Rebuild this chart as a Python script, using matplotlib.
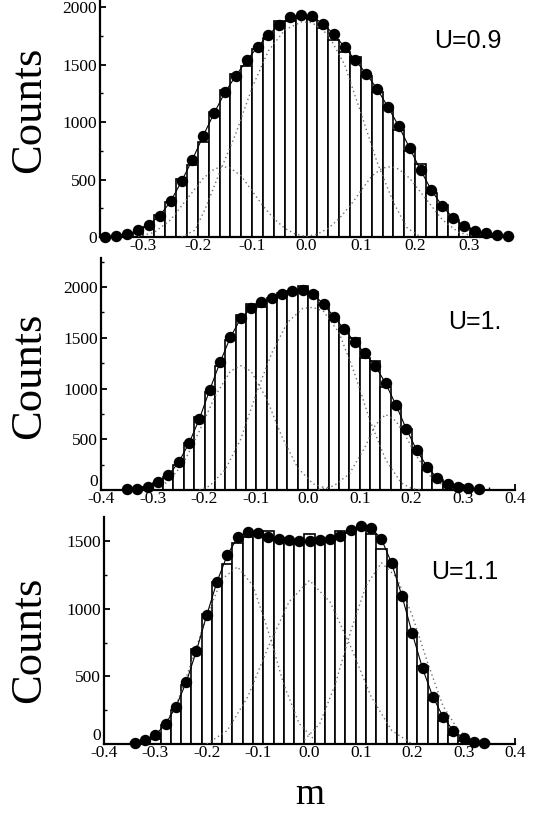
import matplotlib
matplotlib.use("Agg")
import matplotlib.pyplot as plt
from matplotlib.ticker import MultipleLocator
from matplotlib.transforms import ScaledTranslation

# ---------------- data ----------------
# Panel 1 : U=0.9
p1_pts_m = [-0.37, -0.35, -0.33, -0.31, -0.29, -0.27, -0.25, -0.23, -0.21, -0.19,
            -0.17, -0.15, -0.13, -0.11, -0.09, -0.07, -0.05, -0.03, -0.01, 0.01,
            0.03, 0.05, 0.07, 0.09, 0.11, 0.13, 0.15, 0.17, 0.19, 0.21,
            0.23, 0.25, 0.27, 0.29, 0.31, 0.33, 0.35, 0.37]
p1_pts_c = [0, 10, 25, 58, 107, 186, 310, 484, 672, 881,
            1078, 1258, 1403, 1536, 1652, 1759, 1846, 1913, 1933, 1919,
            1855, 1765, 1652, 1536, 1420, 1287, 1130, 962, 771, 580,
            406, 267, 165, 93, 55, 35, 20, 10]
p1_bar_m = [-0.33, -0.31, -0.29, -0.27, -0.25, -0.23, -0.21, -0.19, -0.17, -0.15,
            -0.13, -0.11, -0.09, -0.07, -0.05, -0.03, -0.01, 0.01, 0.03, 0.05,
            0.07, 0.09, 0.11, 0.13, 0.15, 0.17, 0.19, 0.21, 0.23, 0.25,
            0.27, 0.29, 0.31, 0.33]
p1_bar_c = [10, 35, 90, 191, 301, 504, 626, 823, 1090, 1278,
            1417, 1490, 1632, 1728, 1878, 1881, 1905, 1900, 1815, 1712,
            1612, 1568, 1400, 1264, 1139, 930, 748, 632, 380, 278,
            148, 75, 35, 10]
p1_mid_m = [-0.23, -0.205, -0.185, -0.16, -0.13, -0.10, -0.07, -0.04, -0.01, 0.01,
            0.04, 0.07, 0.10, 0.13, 0.16, 0.185, 0.21]
p1_mid_c = [0, 60, 260, 560, 900, 1300, 1620, 1800, 1870, 1865,
            1760, 1500, 1080, 650, 300, 80, 0]
p1_left_m = [-0.31, -0.28, -0.25, -0.22, -0.19, -0.17, -0.155, -0.14, -0.12, -0.10,
             -0.08, -0.06, -0.04, -0.02, 0.0]
p1_left_c = [5, 40, 150, 330, 510, 590, 612, 600, 530, 400,
             270, 160, 75, 25, 5]
p1_right_m = [0.0, 0.02, 0.04, 0.06, 0.08, 0.10, 0.12, 0.14, 0.155, 0.17,
              0.19, 0.22, 0.25, 0.28, 0.31]
p1_right_c = [5, 25, 75, 160, 270, 400, 530, 600, 612, 590,
              510, 330, 150, 40, 5]

# Panel 2 : U=1.
p2_pts_m = [-0.35, -0.33, -0.31, -0.29, -0.27, -0.25, -0.23, -0.21, -0.19, -0.17,
            -0.15, -0.13, -0.11, -0.09, -0.07, -0.05, -0.03, -0.01, 0.01, 0.03,
            0.05, 0.07, 0.09, 0.11, 0.13, 0.15, 0.17, 0.19, 0.21, 0.23,
            0.25, 0.27, 0.29, 0.31, 0.33]
p2_pts_c = [7, 13, 33, 76, 144, 273, 460, 699, 985, 1258,
            1504, 1691, 1790, 1849, 1888, 1931, 1964, 1970, 1928, 1833,
            1708, 1583, 1461, 1346, 1222, 1051, 837, 601, 394, 230,
            115, 56, 33, 16, 13]
p2_bar_m = [-0.33, -0.31, -0.29, -0.27, -0.25, -0.23, -0.21, -0.19, -0.17, -0.15,
            -0.13, -0.11, -0.09, -0.07, -0.05, -0.03, -0.01, 0.01, 0.03, 0.05,
            0.07, 0.09, 0.11, 0.13, 0.15, 0.17, 0.19, 0.21, 0.23, 0.25,
            0.27, 0.29, 0.31]
p2_bar_c = [10, 25, 66, 131, 246, 460, 722, 969, 1222, 1478,
            1724, 1833, 1806, 1895, 1938, 1964, 2013, 1954, 1823, 1675,
            1586, 1494, 1304, 1271, 1018, 837, 601, 394, 197, 99,
            49, 20, 8]
p2_mid_m = [-0.21, -0.19, -0.16, -0.13, -0.10, -0.07, -0.04, -0.01, 0.01, 0.03,
            0.06, 0.09, 0.12, 0.15, 0.18, 0.20, 0.22]
p2_mid_c = [0, 40, 200, 500, 950, 1350, 1650, 1790, 1800, 1760,
            1550, 1150, 680, 300, 70, 15, 0]
p2_left_m = [-0.30, -0.27, -0.24, -0.21, -0.18, -0.15, -0.13, -0.11, -0.08, -0.05,
             -0.02, 0.01, 0.04]
p2_left_c = [15, 80, 270, 580, 920, 1170, 1225, 1170, 900, 520,
             220, 60, 10]
p2_right_m = [0.02, 0.05, 0.08, 0.11, 0.13, 0.15, 0.17, 0.19, 0.21, 0.24,
              0.27, 0.29]
p2_right_c = [5, 40, 160, 420, 640, 745, 680, 520, 330, 110,
              25, 5]

# Panel 3 : U=1.1
p3_pts_m = [-0.34, -0.32, -0.30, -0.28, -0.26, -0.24, -0.22, -0.20, -0.18, -0.16,
            -0.14, -0.12, -0.10, -0.08, -0.06, -0.04, -0.02, 0.00, 0.02, 0.04,
            0.06, 0.08, 0.10, 0.12, 0.14, 0.16, 0.18, 0.20, 0.22, 0.24,
            0.26, 0.28, 0.30, 0.32, 0.34]
p3_pts_c = [10, 30, 67, 148, 276, 456, 690, 953, 1200, 1397,
            1527, 1564, 1557, 1532, 1512, 1507, 1500, 1503, 1507, 1515,
            1539, 1581, 1613, 1598, 1515, 1335, 1094, 818, 559, 350,
            200, 97, 45, 17, 4]
p3_bar_m = [-0.32, -0.30, -0.28, -0.26, -0.24, -0.22, -0.20, -0.18, -0.16, -0.14,
            -0.12, -0.10, -0.08, -0.06, -0.04, -0.02, 0.00, 0.02, 0.04, 0.06,
            0.08, 0.10, 0.12, 0.14, 0.16, 0.18, 0.20, 0.22, 0.24, 0.26,
            0.28, 0.30, 0.32]
p3_bar_c = [8, 34, 140, 250, 438, 704, 960, 1200, 1330, 1483,
            1532, 1545, 1574, 1520, 1510, 1510, 1552, 1510, 1510, 1576,
            1560, 1600, 1552, 1440, 1316, 1095, 818, 575, 322, 170,
            69, 25, 5]
p3_left_m = [-0.32, -0.29, -0.26, -0.23, -0.20, -0.17, -0.14, -0.11, -0.08, -0.05,
             -0.02, 0.01]
p3_left_c = [20, 100, 280, 600, 950, 1220, 1310, 1170, 830, 440,
             150, 30]
p3_mid_m = [-0.20, -0.16, -0.12, -0.08, -0.04, 0.00, 0.04, 0.08, 0.12, 0.16, 0.20]
p3_mid_c = [0, 100, 350, 720, 1050, 1210, 1050, 720, 350, 100, 0]
p3_right_m = [-0.01, 0.02, 0.05, 0.08, 0.11, 0.14, 0.17, 0.20, 0.23, 0.26,
              0.29, 0.32]
p3_right_c = [30, 150, 440, 830, 1170, 1340, 1230, 950, 600, 280,
              100, 20]

labels = ["U=0.9", "U=1.", "U=1.1"]
bin_width = 0.02

# ---------------- figure ----------------
W, H = 540, 819
fig = plt.figure(figsize=(W / 100, H / 100), dpi=100)
serif = "Liberation Serif"
sans = "Liberation Sans"


def px_axes(left, right, top, bottom):
    return fig.add_axes([left / W, 1 - bottom / H, (right - left) / W, (bottom - top) / H])


panels = [
    dict(box=(100, 513, 0, 237), xlim=(-0.38, 0.38), xt=[-0.3, -0.2, -0.1, 0.0, 0.1, 0.2, 0.3],
         ylim=(0, 2061), yt=[0, 500, 1000, 1500, 2000],
         pm=p1_pts_m, pc=p1_pts_c, bm=p1_bar_m, bc=p1_bar_c,
         curves=[(p1_left_m, p1_left_c), (p1_mid_m, p1_mid_c), (p1_right_m, p1_right_c)],
         lab_xy=(502, 41), counts_y=110, lift0=0),
    dict(box=(101, 515, 258, 490), xlim=(-0.4, 0.4), xt=[-0.4, -0.3, -0.2, -0.1, 0.0, 0.1, 0.2, 0.3, 0.4],
         ylim=(0, 2286), yt=[0, 500, 1000, 1500, 2000],
         pm=p2_pts_m, pc=p2_pts_c, bm=p2_bar_m, bc=p2_bar_c,
         curves=[(p2_left_m, p2_left_c), (p2_mid_m, p2_mid_c), (p2_right_m, p2_right_c)],
         lab_xy=(502, 322), counts_y=376, lift0=7),
    dict(box=(104, 515, 517, 744), xlim=(-0.4, 0.4), xt=[-0.4, -0.3, -0.2, -0.1, 0.0, 0.1, 0.2, 0.3, 0.4],
         ylim=(0, 1678), yt=[0, 500, 1000, 1500],
         pm=p3_pts_m, pc=p3_pts_c, bm=p3_bar_m, bc=p3_bar_c,
         curves=[(p3_left_m, p3_left_c), (p3_mid_m, p3_mid_c), (p3_right_m, p3_right_c)],
         lab_xy=(498, 572), counts_y=640, lift0=7),
]

for i, p in enumerate(panels):
    ax = px_axes(*p["box"])
    ax.bar(p["bm"], p["bc"], width=bin_width, facecolor="white", edgecolor="black",
           linewidth=1.2, zorder=2)
    for cm, cc in p["curves"]:
        ax.plot(cm, cc, linestyle=(0, (1, 2.2)), color="#707070", linewidth=1.0, zorder=3)
    ax.plot(p["pm"], p["pc"], color="black", linewidth=0.8, zorder=4)
    ax.plot(p["pm"], p["pc"], linestyle="none", marker="o", markersize=7.2,
            color="black", zorder=5, clip_on=False)
    ax.set_xlim(*p["xlim"])
    ax.set_ylim(*p["ylim"])
    ax.set_xticks(p["xt"])
    ax.set_xticklabels([f"{v:.1f}" for v in p["xt"]])
    ax.set_yticks(p["yt"])
    ax.set_yticklabels([str(v) for v in p["yt"]])
    ax.xaxis.set_minor_locator(MultipleLocator(0.05))
    ax.yaxis.set_minor_locator(MultipleLocator(250))
    for s in ("top", "right"):
        ax.spines[s].set_visible(False)
    for s in ("left", "bottom"):
        ax.spines[s].set_linewidth(1.6)
    ax.tick_params(which="major", direction="in", length=4, width=1.3, labelsize=12.5)
    ax.tick_params(axis="y", which="major", pad=2)
    ax.tick_params(axis="x", which="major", pad=1)
    ax.tick_params(which="minor", direction="in", length=2.5, width=1.0)
    for lab in ax.get_xticklabels() + ax.get_yticklabels():
        lab.set_family(serif)
    if p["lift0"]:
        # lift the "0" label so it clears the x tick labels below it
        zero_lab = ax.yaxis.get_major_ticks()[0].label1
        zero_lab.set_transform(zero_lab.get_transform() +
                               ScaledTranslation(0, p["lift0"] / 72, fig.dpi_scale_trans))
    ax.patch.set_alpha(0)
    fig.text(p["lab_xy"][0] / W, 1 - p["lab_xy"][1] / H, labels[i], family=sans,
             fontsize=18, ha="right", va="center")
    fig.text(29 / W, 1 - p["counts_y"] / H, "Counts", family=serif, fontsize=32,
             rotation=90, ha="center", va="center")

fig.text(310 / W, 1 - 795 / H, "m", family=serif, fontsize=27, ha="center", va="center")

fig.savefig("out.png", dpi=100)
